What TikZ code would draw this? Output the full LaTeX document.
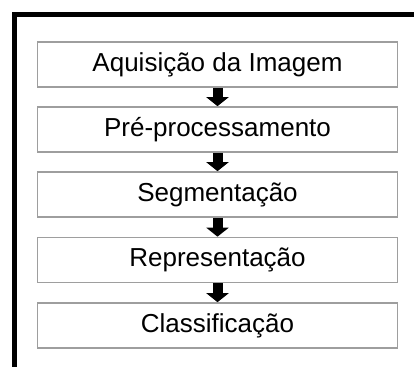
\documentclass[tikz,border=0pt]{standalone}
\usepackage{fontspec}
\setmainfont{Liberation Sans}
\usetikzlibrary{arrows.meta}
\begin{document}
\begin{tikzpicture}[x=1pt,y=-1pt,
  stagebox/.style={draw=black!38, line width=1.6pt, fill=white, minimum width=360pt, minimum height=45pt, inner sep=0pt, font=\fontsize{26}{30}\selectfont},
  blockarrow/.style={line width=10pt, -{Triangle[length=9pt,width=22pt]}}]
\useasboundingbox (0,0) rectangle (414,367);
\fill[black] (12,12) rectangle (414,17);
\fill[black] (12,12) rectangle (16.5,367);
\node[stagebox] (b1) at (217.5,64.5) {Aquisição da Imagem};
\node[stagebox] (b2) at (217.5,129.5) {Pré-processamento};
\node[stagebox] (b3) at (217.5,194.5) {Segmentação};
\node[stagebox] (b4) at (217.5,260) {Representação};
\node[stagebox] (b5) at (217.5,325.5) {Classificação};
\draw[blockarrow] (b1.south) -- (b2.north);
\draw[blockarrow] (b2.south) -- (b3.north);
\draw[blockarrow] (b3.south) -- (b4.north);
\draw[blockarrow] (b4.south) -- (b5.north);
\end{tikzpicture}
\end{document}
